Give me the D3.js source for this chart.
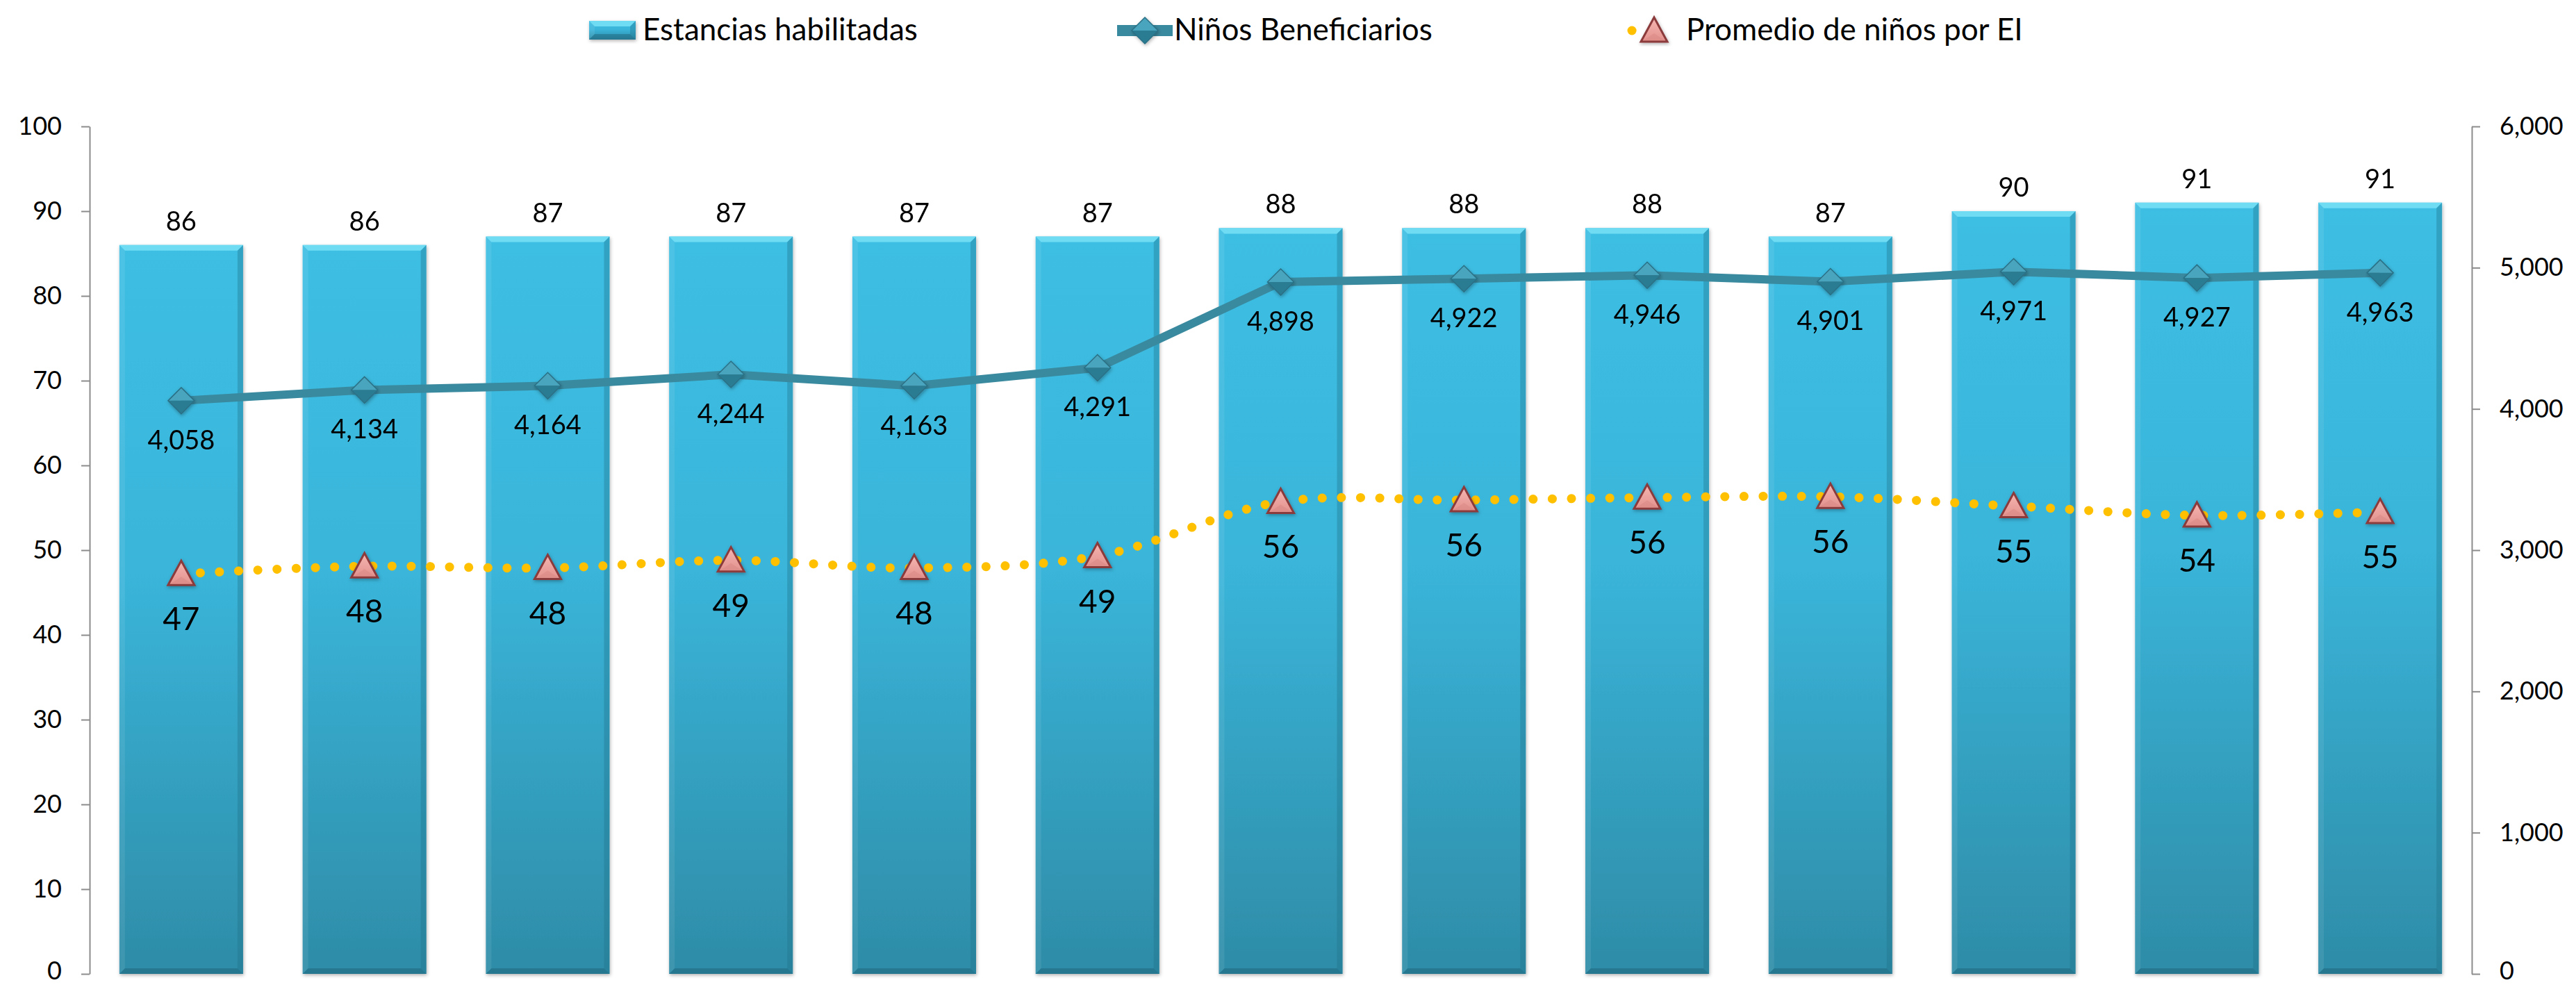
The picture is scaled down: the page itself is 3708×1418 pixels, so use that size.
<!DOCTYPE html>
<html>
<head>
<meta charset="utf-8">
<script src="https://cdn.jsdelivr.net/npm/d3@7"></script>
<style>
  body { margin: 0; background: #fff; }
  text { font-family: Lato, "Noto Sans", sans-serif; fill: #000; }
</style>
</head>
<body>
<div id="chart"></div>
<script>
// Data
const periodos = ["1", "2", "3", "4", "5", "6", "7", "8", "9", "10", "11", "12", "13"];
const estancias = [86, 86, 87, 87, 87, 87, 88, 88, 88, 87, 90, 91, 91];
const ninos = [4058, 4134, 4164, 4244, 4163, 4291, 4898, 4922, 4946, 4901, 4971, 4927, 4963];
const promedio = [47.2, 48.1, 47.9, 48.8, 47.9, 49.3, 55.7, 55.9, 56.2, 56.3, 55.2, 54.1, 54.5];
const leftTicks = [0, 10, 20, 30, 40, 50, 60, 70, 80, 90, 100];
const rightTicks = [0, 1000, 2000, 3000, 4000, 5000, 6000];
const seriesNames = ["Estancias habilitadas", "Niños Beneficiarios", "Promedio de niños por EI"];

const W = 3708, H = 1418;
const margin = { top: 182, right: 150, bottom: 16, left: 129 };
const plotW = W - margin.left - margin.right;
const plotH = H - margin.top - margin.bottom;

const svg = d3.select("#chart").append("svg")
  .attr("width", W).attr("height", H);

// Gradients and shadow
const defs = svg.append("defs");
const barGrad = defs.append("linearGradient").attr("id", "barGrad")
  .attr("x1", 0).attr("y1", 0).attr("x2", 0).attr("y2", 1);
barGrad.append("stop").attr("offset", "0%").attr("stop-color", "#3dbee3");
barGrad.append("stop").attr("offset", "45%").attr("stop-color", "#3ab5da");
barGrad.append("stop").attr("offset", "100%").attr("stop-color", "#2e8ca7");

const triGrad = defs.append("linearGradient").attr("id", "triGrad")
  .attr("x1", 0).attr("y1", 0).attr("x2", 0).attr("y2", 1);
triGrad.append("stop").attr("offset", "0%").attr("stop-color", "#f6b6b2");
triGrad.append("stop").attr("offset", "100%").attr("stop-color", "#e2918d");

const shadow = defs.append("filter").attr("id", "shadow")
  .attr("x", "-20%").attr("y", "-20%").attr("width", "140%").attr("height", "140%");
shadow.append("feDropShadow").attr("dx", 1).attr("dy", 2).attr("stdDeviation", 2.5)
  .attr("flood-color", "#000").attr("flood-opacity", 0.3);

const g = svg.append("g").attr("transform", `translate(${margin.left},${margin.top})`);

// Scales
const x = d3.scaleBand().domain(periodos).range([0, plotW])
  .paddingInner(0.325).paddingOuter(0.1625);
const yLeft = d3.scaleLinear().domain([0, 100]).range([plotH, 0]);
const yRight = d3.scaleLinear().domain([0, 6000]).range([plotH, 0]);
const cx = d => x(d) + x.bandwidth() / 2;

// Axes
const fmt = d3.format(",");
const leftAxis = g.append("g")
  .call(d3.axisLeft(yLeft).tickValues(leftTicks).tickSize(12).tickSizeOuter(0).tickPadding(28));
const rightAxis = g.append("g").attr("transform", `translate(${plotW},0)`)
  .call(d3.axisRight(yRight).tickValues(rightTicks).tickFormat(fmt).tickSize(12).tickSizeOuter(0).tickPadding(28));
[leftAxis, rightAxis].forEach(a => {
  a.selectAll("path, line").attr("stroke", "#8c8c8c").attr("stroke-width", 2);
  a.selectAll("text").style("font-size", "36px").style("font-family", "Lato, sans-serif").attr("fill", "#000");
  // keep the zero label inside the picture
  a.selectAll(".tick text").filter(d => d === 0).attr("dy", "0.2em");
});

// Bevelled bar
function drawBar(sel, x0, y0, w, h) {
  const b = 8;
  sel.append("rect").attr("x", x0).attr("y", y0).attr("width", w).attr("height", h)
    .attr("fill", "url(#barGrad)").attr("filter", "url(#shadow)");
  sel.append("path").attr("d", `M${x0},${y0}L${x0 + w},${y0}L${x0 + w - b},${y0 + b}L${x0 + b},${y0 + b}Z`)
    .attr("fill", "#6fdcf4");
  sel.append("path").attr("d", `M${x0},${y0}L${x0},${y0 + h}L${x0 + b},${y0 + h - b}L${x0 + b},${y0 + b}Z`)
    .attr("fill", "#ffffff").attr("opacity", 0.08);
  sel.append("path").attr("d", `M${x0 + w},${y0}L${x0 + w},${y0 + h}L${x0 + w - b},${y0 + h - b}L${x0 + w - b},${y0 + b}Z`)
    .attr("fill", "#1f6f88").attr("opacity", 0.35);
  sel.append("path").attr("d", `M${x0},${y0 + h}L${x0 + w},${y0 + h}L${x0 + w - b},${y0 + h - b}L${x0 + b},${y0 + h - b}Z`)
    .attr("fill", "#1d5f75").attr("opacity", 0.45);
}

// Bars
const barG = g.append("g");
periodos.forEach((p, i) => {
  drawBar(barG.append("g"), x(p), yLeft(estancias[i]), x.bandwidth(), plotH - yLeft(estancias[i]));
});

// Niños line (right axis)
const lineNinos = d3.line().x((d, i) => cx(periodos[i])).y(d => yRight(d));
g.append("path").datum(ninos).attr("d", lineNinos)
  .attr("fill", "none").attr("stroke", "#3a8a9f").attr("stroke-width", 12).attr("stroke-linejoin", "round");

function drawDiamond(sel, px, py, r) {
  sel.append("path").attr("d", `M${px - r},${py}L${px},${py - r}L${px + r},${py}Z`).attr("fill", "#4aa4bd");
  sel.append("path").attr("d", `M${px - r},${py}L${px},${py + r}L${px + r},${py}Z`).attr("fill", "#2c7b92");
  sel.append("path").attr("d", `M${px - r},${py}L${px},${py - r}L${px + r},${py}L${px},${py + r}Z`)
    .attr("fill", "none").attr("stroke", "#2a7085").attr("stroke-width", 1.5);
}
const diaG = g.append("g").attr("filter", "url(#shadow)");
ninos.forEach((v, i) => drawDiamond(diaG, cx(periodos[i]), yRight(v), 19));

// Promedio dotted smooth line (left axis)
const linePromedio = d3.line().x((d, i) => cx(periodos[i])).y(d => yLeft(d)).curve(d3.curveCatmullRom);
g.append("path").datum(promedio).attr("d", linePromedio)
  .attr("fill", "none").attr("stroke", "#ffc000").attr("stroke-width", 13)
  .attr("stroke-linecap", "round").attr("stroke-dasharray", "0.1 27.5");

function drawTriangle(sel, px, py) {
  sel.append("path").attr("d", `M${px},${py - 19}L${px + 19},${py + 16}L${px - 19},${py + 16}Z`)
    .attr("fill", "url(#triGrad)").attr("stroke", "#8b3a3a").attr("stroke-width", 3).attr("stroke-linejoin", "miter");
  sel.append("path").attr("d", `M${px - 15},${py + 14}L${px},${py + 4}L${px + 15},${py + 14}Z`)
    .attr("fill", "#d98884").attr("opacity", 0.5);
}
const triG = g.append("g").attr("filter", "url(#shadow)");
promedio.forEach((v, i) => drawTriangle(triG, cx(periodos[i]), yLeft(v)));

// Data labels
g.append("g").selectAll("text").data(estancias).join("text")
  .attr("x", (d, i) => cx(periodos[i])).attr("y", d => yLeft(d) - 21)
  .attr("text-anchor", "middle").style("font-size", "38px").text(d => d);
g.append("g").selectAll("text").data(ninos).join("text")
  .attr("x", (d, i) => cx(periodos[i])).attr("y", d => yRight(d) + 70)
  .attr("text-anchor", "middle").style("font-size", "38px").text(d => fmt(d));
g.append("g").selectAll("text").data(promedio).join("text")
  .attr("x", (d, i) => cx(periodos[i])).attr("y", d => yLeft(d) + 81)
  .attr("text-anchor", "middle").style("font-size", "46px").text(d => d3.format(".0f")(d));

// Legend
const leg = svg.append("g");
drawBar(leg.append("g"), 848, 30, 67, 27);
leg.append("text").attr("x", 925).attr("y", 58).style("font-size", "44px").text(seriesNames[0]);

leg.append("line").attr("x1", 1608).attr("x2", 1688).attr("y1", 44).attr("y2", 44)
  .attr("stroke", "#3a8a9f").attr("stroke-width", 16);
drawDiamond(leg.append("g").attr("filter", "url(#shadow)"), 1648, 44, 19);
leg.append("text").attr("x", 1690).attr("y", 58).style("font-size", "44px").text(seriesNames[1]);

leg.append("line").attr("x1", 2349).attr("x2", 2412).attr("y1", 44).attr("y2", 44)
  .attr("stroke", "#ffc000").attr("stroke-width", 13).attr("stroke-linecap", "round")
  .attr("stroke-dasharray", "0.1 63");
drawTriangle(leg.append("g").attr("filter", "url(#shadow)"), 2381, 44);
leg.append("text").attr("x", 2427).attr("y", 58).style("font-size", "44px").text(seriesNames[2]);
</script>
</body>
</html>
